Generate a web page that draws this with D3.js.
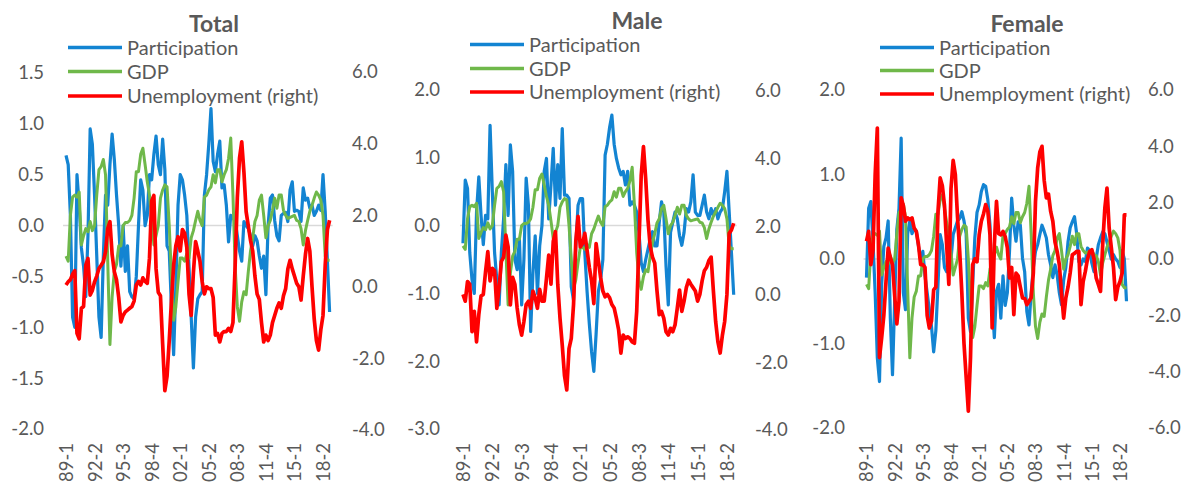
<!DOCTYPE html>
<html>
<head>
<meta charset="utf-8">
<script src="https://cdn.jsdelivr.net/npm/d3@7"></script>
<style>
  body { margin: 0; background: #fff; }
  svg text { font-family: Lato, "Open Sans", sans-serif; fill: #595959; }
</style>
</head>
<body>
<svg id="chart" width="1184" height="483"></svg>
<script>
// quarterly categories 89-1 ... 19-1
const quarters = []
for (let y = 1989; y <= 2019; y++) {
    for (let q = 1; q <= 4; q++) {
        if (y === 2019 && q > 1) break
        quarters.push(`${String(y).slice(2)}-${q}`)
    }
}

const tickLabels = ['89-1', '92-2', '95-3', '98-4', '02-1', '05-2', '08-3', '11-4', '15-1', '18-2']
const seriesNames = ['Participation', 'GDP', 'Unemployment (right)']

// GDP is the same series in all three panels
const gdp = [
    -0.30, -0.35, 0.10, 0.28, 0.30, 0.28, 0.33, -0.19, -0.10, -0.03,
    -0.06, 0.04, -0.05, 0.00, 0.30, 0.55, 0.58, 0.65, 0.50, -0.35,
    -1.17, -0.70, -0.45, -0.38, -0.20, -0.20, 0.00, 0.03, 0.03, 0.05,
    0.10, 0.27, 0.53, 0.53, 0.70, 0.76, 0.60, 0.43, 0.30, 0.07,
    -0.19, -0.10, 0.00, 0.27, 0.35, 0.40, 0.38, 0.00, -0.50, -0.93,
    -0.80, -0.55, -0.32, -0.32, -0.35, -0.28, -0.32, -0.12, -0.05, 0.05,
    0.14, 0.05, 0.00, 0.28, 0.30, 0.35, 0.38, 0.50, 0.42, 0.55,
    0.55, 0.43, 0.50, 0.55, 0.66, 0.86, 0.30, -0.40, -0.80, -0.94,
    -0.75, -0.65, -0.68, -0.45, -0.25, -0.12, 0.04, 0.10, 0.25, 0.30,
    0.10, -0.12, 0.00, 0.05, 0.15, 0.27, 0.17, 0.30, 0.30, 0.15,
    0.10, 0.07, 0.08, 0.09, 0.10, 0.05, 0.04, -0.03, -0.19, -0.05,
    0.05, 0.14, 0.20, 0.27, 0.33, 0.30, 0.25, 0.10, -0.30, -0.34,
    -0.34
]

const totalPart = [
    0.69, 0.60, 0.10, -0.90, -1.00, 0.50, 0.20, -0.22, -0.40, -0.70,
    -0.10, 0.95, 0.80, 0.30, -0.30, -0.90, -1.10, -0.30, 0.30, 0.20,
    0.60, 0.90, 0.65, 0.30, 0.00, -0.40, 0.00, -0.45, -0.20, -0.65,
    -0.70, -0.72, -0.50, 0.00, 0.45, 0.35, 0.00, 0.10, 0.50, 0.45,
    0.70, 0.88, 0.60, 0.50, 0.85, 0.55, -0.20, -0.25, -0.80, -1.27,
    -0.60, 0.20, 0.50, 0.45, 0.30, 0.10, -0.40, -0.90, -1.40, -0.90,
    -0.72, -0.68, -0.65, 0.30, 0.50, 0.80, 1.15, 0.63, 0.53, 0.70,
    0.83, 0.37, 0.40, 0.20, -0.16, 0.10, 0.07, 0.05, -0.10, -0.25,
    -0.35, 0.04, 0.00, -0.03, -0.10, -0.20, -0.10, -0.15, -0.30, -0.42,
    -0.30, -0.68, 0.00, 0.27, 0.30, 0.05, -0.10, -0.15, 0.10, 0.12,
    0.13, 0.04, 0.35, 0.43, 0.14, 0.15, 0.14, 0.04, 0.37, 0.25,
    0.27, 0.17, 0.20, 0.10, 0.14, 0.20, 0.15, 0.50, 0.14, -0.35,
    -0.85
]

const totalUnemp = [
    0.05, 0.14, 0.20, 0.35, 0.45, -1.30, -1.45, -0.60, -0.55, 0.60,
    0.79, -0.23, -0.10, 0.14, 0.30, 0.51, 0.60, 0.70, 0.98, 1.63,
    1.82, 0.90, 0.42, 0.20, -0.30, -0.98, -0.80, -0.70, -0.65, -0.60,
    -0.55, -0.40, 0.05, 0.15, 0.05, 0.25, 0.15, 0.10, 0.80, 2.40,
    2.55, 0.50, -0.15, -0.25, -1.60, -2.90, -2.50, -1.50, -0.40, 0.60,
    1.15, 1.40, 1.00, 1.60, 1.50, 1.10, -0.20, -0.80, 0.40, 1.26,
    1.00, 0.70, 0.14, -0.20, 0.00, -0.05, -0.05, -0.30, -1.35, -1.30,
    -1.54, -1.30, -1.25, -1.25, -1.16, -1.25, -1.00, 0.60, 2.50, 3.60,
    4.05, 3.20, 2.10, 1.70, 1.30, 1.00, 0.30, -0.20, -0.35, -1.00,
    -1.54, -1.35, -1.50, -1.35, -1.00, -0.80, -0.60, -0.45, -0.60, -0.25,
    -0.05, 0.50, 0.74, 0.50, 0.30, 0.10, 0.00, -0.37, 0.30, 0.90,
    1.35, 1.00, 0.00, -0.90, -1.50, -1.77, -1.20, -0.80, 0.60, 1.60,
    1.86
]

const malePart = [
    -0.26, 0.67, 0.55, -0.40, -0.80, -1.00, 0.20, 0.72, 0.15, -0.28,
    0.15, 0.10, 1.48, 0.50, -0.40, -0.80, -1.17, -0.40, 0.10, 0.90,
    0.15, 1.19, 0.80, -0.50, -0.65, -0.20, -1.17, -0.50, 0.70, 0.30,
    -1.56, -0.70, -0.15, -1.00, -0.30, 0.00, 0.80, 0.99, 0.10, 0.60,
    1.14, 0.30, 0.90, 0.40, 1.43, 0.45, 0.45, 0.40, -0.90, -1.10,
    -0.30, 0.30, 0.40, 0.40, -0.40, -0.97, -1.45, -1.86, -2.15, -1.60,
    -0.97, -0.80, -0.50, 1.04, 1.20, 1.45, 1.63, 1.20, 0.99, 0.85,
    0.75, 0.80, 0.60, 0.80, 0.30, 0.35, 0.30, 0.20, -0.10, -0.55,
    -0.68, -0.50, -0.35, -0.20, -0.09, -0.30, -0.30, 0.05, 0.35, 0.20,
    -0.60, -1.17, -0.10, 0.05, 0.20, 0.10, -0.15, -0.29, -0.10, 0.25,
    0.20, 0.35, 0.75, 0.20, 0.15, 0.15, 0.30, 0.45, 0.20, 0.10,
    0.25, 0.15, 0.25, 0.10, 0.20, 0.25, 0.50, 0.80, 0.20, -0.40,
    -1.02
]

const maleUnemp = [
    0.00, -0.20, 0.38, 0.30, -1.10, -0.50, -1.40, -0.60, -0.05, 0.00,
    0.67, 1.26, 0.40, 0.77, 0.70, -0.41, 0.20, 0.97, 1.10, 1.75,
    1.40, -0.31, 0.50, 0.30, -0.40, -0.90, -1.20, -0.80, -0.30, -0.20,
    -0.41, 0.10, -0.10, -0.41, 0.15, -0.20, -0.20, 0.47, 1.16, 0.30,
    1.56, 1.85, 0.30, -0.70, -1.50, -2.40, -2.82, -1.60, -1.30, -0.30,
    1.56, 2.30, 1.40, 1.50, 1.80, 1.30, 0.80, 0.40, -0.27, 1.50,
    1.00, 0.50, 0.10, -0.07, 0.00, -0.10, -0.30, -0.40, -0.70, -1.05,
    -1.73, -1.20, -1.30, -1.25, -1.30, -1.40, -1.44, -0.50, 1.50, 3.50,
    4.36, 3.40, 2.20, 1.40, 1.10, 0.92, 0.10, -0.60, -0.50, -0.70,
    -1.10, -1.20, -1.00, -1.10, -0.90, -0.40, 0.13, -0.50, -0.20, 0.20,
    0.42, 0.30, 0.20, 0.10, -0.20, 0.00, 0.40, 0.70, 0.80, 1.00,
    1.10, 0.10, -0.80, -1.40, -1.73, -1.20, -0.80, 0.00, 1.80, 1.90,
    2.10
]

const femalePart = [
    -0.22, 0.60, 0.68, 0.20, -0.40, -1.17, -1.45, -0.30, 0.15, 0.25,
    0.45, -0.70, -1.37, -0.50, 0.35, 0.60, 1.43, -0.40, -0.60, 0.30,
    0.45, 0.30, 0.36, 0.33, 0.15, 0.00, 0.09, -0.20, -0.40, -0.60,
    -0.80, -1.10, -0.85, -0.30, 0.29, 0.17, -0.10, -0.15, -0.10, 0.00,
    0.29, 0.37, 0.45, 0.48, 0.56, 0.45, 0.30, -0.70, -0.86, -0.30,
    0.25, 0.55, 0.64, 0.80, 0.88, 0.86, 0.70, 0.40, -0.50, -0.93,
    -0.38, -0.30, -0.70, -0.20, -0.55, -0.40, 0.09, 0.72, 0.40, 0.21,
    0.44, 0.40, 0.01, -0.15, -0.62, -0.78, -0.40, -0.10, 0.09, 0.17,
    0.29, 0.40, 0.33, 0.25, 0.05, -0.07, -0.22, -0.07, -0.19, -0.40,
    -0.54, -0.25, -0.10, 0.20, 0.37, 0.44, 0.50, 0.30, -0.03, -0.07,
    0.00, -0.03, 0.13, 0.10, -0.05, -0.15, 0.00, 0.17, 0.25, 0.32,
    0.30, 0.20, 0.10, 0.00, 0.05, 0.00, -0.03, -0.10, 0.10, 0.00,
    -0.50
]

const femaleUnemp = [
    0.63, 0.98, -0.20, 0.30, 3.00, 4.65, -3.50, -2.80, -2.00, -0.80,
    0.39, 0.05, -0.20, -1.30, -2.30, -1.50, 2.17, 1.90, 1.34, 1.46,
    1.40, 1.46, 1.10, 0.98, 0.50, -0.20, -0.20, -0.30, -2.00, -2.45,
    -2.20, -1.10, -1.00, 1.69, 2.88, 2.60, 1.90, 0.50, -0.90, 2.50,
    3.50, 3.00, 1.50, 0.30, -1.20, -3.00, -4.20, -5.40, -3.50, -0.20,
    0.00, -0.10, 0.86, 1.34, 1.60, 1.93, 1.70, 0.86, -2.45, 0.50,
    2.05, 0.90, 0.86, 0.98, 0.80, 0.40, -0.67, -0.30, -1.98, -0.50,
    -0.60, -1.00, -1.38, -1.40, -1.62, -1.50, -1.38, -0.50, 2.05, 3.23,
    3.80, 4.00, 2.80, 2.17, 2.30, 1.69, 1.34, 0.60, 0.27, -0.20,
    -1.20, -2.10, -1.38, -1.00, -0.50, 0.15, 0.20, 0.27, 0.27, -1.62,
    -0.80, -0.44, 0.00, 0.27, 0.33, 0.00, -0.67, -0.90, -1.15, 0.50,
    1.80, 2.52, 1.10, 0.40, -0.30, -1.44, -1.00, -0.80, -0.50, 1.57,
    1.57
]

// axis tick values
const totalLeftTicks = [-2, -1.5, -1, -0.5, 0, 0.5, 1, 1.5]
const totalRightTicks = [-4, -2, 0, 2, 4, 6]
const maleLeftTicks = [-3, -2, -1, 0, 1, 2]
const maleRightTicks = [-4, -2, 0, 2, 4, 6]
const femaleLeftTicks = [-2, -1, 0, 1, 2]
const femaleRightTicks = [-6, -4, -2, 0, 2, 4, 6]

const colors = ['#1384d2', '#6fb84a', '#ff0000']
const widths = [3.2, 3, 3.7]

// layout for each panel (pixels)
const panels = [
    {title: 'Total', part: totalPart, unemp: totalUnemp,
     x0: 66, x1: 329.6, titleX: 214, titleY: 32,
     leftTicks: totalLeftTicks, leftRange: [429, 73], leftLabelX: 44,
     rightTicks: totalRightTicks, rightRange: [430, 72], rightLabelX: 352,
     legendX: 68, legendY: [47.5, 71.5, 96]},
    {title: 'Male', part: malePart, unemp: maleUnemp,
     x0: 463, x1: 733.7, titleX: 637, titleY: 29,
     leftTicks: maleLeftTicks, leftRange: [429, 90], leftLabelX: 440,
     rightTicks: maleRightTicks, rightRange: [430, 91], rightLabelX: 755,
     legendX: 470, legendY: [44.5, 68.5, 92]},
    {title: 'Female', part: femalePart, unemp: femaleUnemp,
     x0: 866.5, x1: 1126.5, titleX: 1027, titleY: 32,
     leftTicks: femaleLeftTicks, leftRange: [428, 90], leftLabelX: 845,
     rightTicks: femaleRightTicks, rightRange: [428, 90], rightLabelX: 1148,
     legendX: 880, legendY: [47.5, 70.5, 94]}
]

const svg = d3.select('#chart')
const fmt = d => d.toFixed(1)

const drawPanel = (p) => {
    const g = svg.append('g')

    const xScale = d3.scalePoint()
        .domain(quarters)
        .range([p.x0, p.x1])

    const yLeft = d3.scaleLinear()
        .domain(d3.extent(p.leftTicks))
        .range(p.leftRange)

    const yRight = d3.scaleLinear()
        .domain(d3.extent(p.rightTicks))
        .range(p.rightRange)

    // zero line (category axis)
    g.append('line')
        .attr('x1', p.x0 - 3)
        .attr('x2', p.x1 + 3)
        .attr('y1', yLeft(0))
        .attr('y2', yLeft(0))
        .attr('stroke', '#d9d9d9')
        .attr('stroke-width', 1.5)

    // left axis
    const leftAxis = g.append('g')
        .attr('transform', `translate(${p.leftLabelX}, 0)`)
        .call(d3.axisLeft(yLeft).tickValues(p.leftTicks).tickSize(0).tickPadding(0).tickFormat(fmt))
    leftAxis.select('.domain').remove()

    // right axis
    const rightAxis = g.append('g')
        .attr('transform', `translate(${p.rightLabelX}, 0)`)
        .call(d3.axisRight(yRight).tickValues(p.rightTicks).tickSize(0).tickPadding(0).tickFormat(fmt))
    rightAxis.select('.domain').remove()

    // bottom axis with rotated labels
    const bottomAxis = g.append('g')
        .attr('transform', 'translate(0, 443)')
        .call(d3.axisBottom(xScale).tickValues(tickLabels).tickSize(0).tickPadding(0))
    bottomAxis.select('.domain').remove()
    bottomAxis.selectAll('text')
        .attr('transform', 'rotate(-90)')
        .attr('text-anchor', 'end')
        .attr('x', 0)
        .attr('y', 0)
        .attr('dy', '0.35em')

    g.selectAll('.tick text')
        .attr('font-size', '18.5px')
        .attr('font-family', 'Lato, sans-serif')
        .attr('fill', '#595959')

    // series: participation, gdp on the left axis, unemployment on the right
    const series = [
        {values: p.part, scale: yLeft},
        {values: gdp, scale: yLeft},
        {values: p.unemp, scale: yRight}
    ]

    series.forEach((s, k) => {
        const line = d3.line()
            .x((d, i) => xScale(quarters[i]))
            .y(d => s.scale(d))
        g.append('path')
            .datum(s.values)
            .attr('fill', 'none')
            .attr('stroke', colors[k])
            .attr('stroke-width', widths[k])
            .attr('stroke-linejoin', 'round')
            .attr('d', line)
    })

    // title
    g.append('text')
        .attr('x', p.titleX)
        .attr('y', p.titleY)
        .attr('text-anchor', 'middle')
        .attr('font-size', '23px')
        .attr('font-weight', 'bold')
        .text(p.title)

    // legend
    seriesNames.forEach((name, k) => {
        g.append('line')
            .attr('x1', p.legendX)
            .attr('x2', p.legendX + 54)
            .attr('y1', p.legendY[k])
            .attr('y2', p.legendY[k])
            .attr('stroke', colors[k])
            .attr('stroke-width', 3.7)
        g.append('text')
            .attr('x', p.legendX + 59)
            .attr('y', p.legendY[k])
            .attr('dy', '0.35em')
            .attr('font-size', '20px')
            .text(name)
    })
}

panels.forEach(drawPanel)
</script>
</body>
</html>
